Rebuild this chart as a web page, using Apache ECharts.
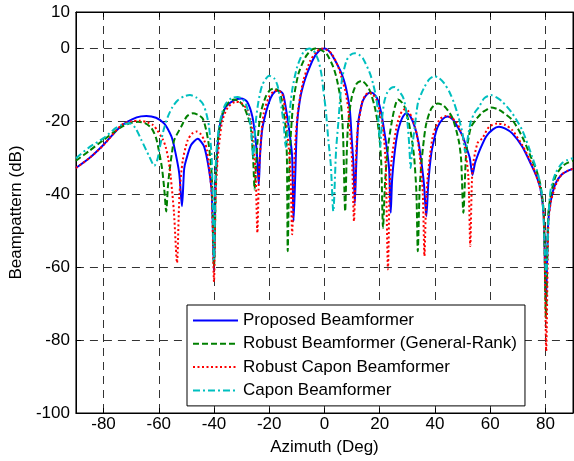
<!DOCTYPE html>
<html>
<head>
<meta charset="utf-8">
<script src="https://cdn.jsdelivr.net/npm/echarts@6/dist/echarts.min.js"></script>
<style>
html,body{margin:0;padding:0;background:#fff;}
#chart{width:574px;height:461px;}
</style>
</head>
<body>
<div id="chart"></div>
<script>
// ---- data ----
const xTicks = [-80, -60, -40, -20, 0, 20, 40, 60, 80];
const seriesNames = ['Proposed Beamformer', 'Robust Beamformer (General-Rank)', 'Robust Capon Beamformer', 'Capon Beamformer'];

const proposedAz = [-90,-85,-80,-73.5,-68,-64.5,-61,-58,-55.5,-54.4,-52.6,-51.6,-50.8,-50.1,-48.3,-45.9,-43.6,-41.8,-40.8,-40,-39.5,-38.8,-38.2,-37,-35.7,-33,-30.1,-28,-26.1,-25,-24.3,-23.8,-23.3,-22.5,-21,-19.5,-18,-16.6,-15,-13.5,-12.5,-11.7,-11.2,-10.8,-10.5,-9.9,-8.7,-7.5,-6.3,-4,-2,0,1.5,3.2,5.7,7,8,9.2,9.9,10.5,11,11.5,12.2,13,14,15.5,17,18.3,19.4,20.5,21.2,22.5,23.4,24,24.5,25.5,26.5,27.5,28.5,29.7,31,32.7,34,35,36,36.9,37.6,38.7,40,41,42.8,44.6,46.5,48.2,50,51.3,52.6,53.6,54.5,55.4,56,58.5,61,63.2,65.5,68,71.6,75.2,77,78.3,79.4,80.2,81,81.9,83.7,86,88,90];
const proposedDb = [-32.8,-30,-26.4,-21.2,-18.9,-18.5,-19,-20.6,-24,-27,-34.2,-43.3,-33,-30.6,-26.5,-24.8,-26.9,-33.3,-40,-61,-38,-28,-22.5,-18.5,-16,-14.3,-13.7,-14.6,-18.7,-24.5,-30.6,-37.4,-29,-22,-17,-13.6,-11.9,-11.5,-12.5,-18.7,-24,-29.7,-47.4,-40,-33,-20.5,-13.3,-9.6,-6.9,-2.8,-0.7,0,-0.6,-2.4,-6,-8.6,-11.5,-17,-25.1,-32,-42.4,-32,-20.5,-17,-14.2,-12.5,-12.1,-12.8,-14.2,-17.5,-20.5,-27,-33,-45.1,-36,-28,-23,-20.3,-18.6,-17.8,-18.5,-21.5,-25.5,-30.6,-37,-46,-37,-28.7,-24,-21.5,-19.4,-18.7,-19.5,-21.5,-24,-26.9,-30,-34.7,-31.5,-29.5,-28.3,-24.2,-22.2,-21.5,-22,-23.3,-26.9,-32.4,-35.5,-38.8,-46,-70,-48,-42,-37,-34.5,-33.6,-33];

const rankAz = [-90,-85,-80,-73.5,-70,-67.5,-65,-62.7,-61,-59.8,-58.8,-58,-57.3,-56.7,-56.2,-55.2,-54.4,-51.9,-49.8,-47.7,-45.8,-44.1,-42.8,-41.8,-40.8,-40,-39.3,-38.7,-37.8,-36.9,-35,-32.8,-31,-29.2,-27.8,-26.7,-25.8,-25.3,-24.7,-24.3,-23.1,-21.3,-19.7,-18.1,-16.5,-15.5,-14.1,-13.6,-13.3,-12.8,-12.3,-11.2,-9.4,-6.9,-5,-3.3,-1.5,0.8,3.2,4.5,5.7,6.4,6.8,7.5,8.1,8.6,9.9,11.7,13.5,15.8,17,18.2,19.2,20,20.6,21.2,22,23,24.3,25.5,26.6,28,29,30.3,31.5,32.5,33.3,33.8,34.4,35,36,36.9,38.7,41,43,44.6,46.3,47.7,48.8,49.5,50.3,51.3,52.2,53.1,55.4,57.2,58.5,60.3,62.5,64.4,68,71.6,75.2,77,78.3,79.4,80.2,81,82,83.7,86,88,90];
const rankDb = [-30.8,-28,-25.1,-21.5,-20.4,-20.1,-20.5,-21.8,-24.5,-28.7,-33,-38.7,-44.7,-38,-34.2,-28.5,-25.1,-21.5,-18.6,-17.8,-18.2,-19.2,-22.5,-26.9,-35,-60,-36,-26,-21,-17.8,-15,-14,-14.4,-16,-18.6,-21.5,-30.6,-38.7,-31,-26,-17.8,-13.3,-11.4,-11,-11.8,-14,-21.5,-30,-55.6,-35,-25.1,-14.2,-6.9,-2.4,-0.6,0,-0.3,-1.5,-5.1,-8.5,-13.3,-19,-25.1,-44.7,-28,-20.5,-13.3,-9.6,-8.9,-10.6,-12.8,-16,-20,-25.1,-32,-49.2,-36,-27,-20.5,-16,-14,-14.8,-16,-19.5,-24.2,-30,-39.7,-55.6,-40,-32.4,-25,-20.5,-16.5,-15.1,-15.6,-16.9,-19,-22.4,-26,-30.6,-45.1,-28.7,-24.5,-21.5,-19,-17.5,-16.9,-16.2,-16.6,-17.4,-19.6,-24.2,-30.6,-34,-37.8,-45,-74,-46,-40,-35.1,-32.4,-31.4,-30.8];

const robustCaponAz = [-90,-85,-80,-73.5,-70,-67,-64,-62.1,-60.5,-58.5,-57.5,-56.5,-55.7,-54.5,-53.4,-52.5,-51.3,-49.5,-48,-46.3,-44.8,-43.6,-42.5,-41.8,-40.8,-40,-39.4,-38.7,-37.8,-36.9,-35,-32.1,-30,-27.9,-26.8,-25.9,-24.9,-24.3,-23.7,-23.1,-22,-20.1,-18.5,-17.1,-15.3,-14.1,-13,-12.3,-11.7,-11.1,-10.5,-9.4,-7.6,-5.1,-3,-1,0.8,2.7,5,7.5,8.5,9.3,10,10.7,11.3,11.9,13.5,14.8,16.2,17.5,18.9,20.7,21.6,22.2,23,23.6,24.3,26.1,27.5,29,30.5,32,33.4,34.4,35.6,36.2,36.8,37.4,39.2,41.6,44,46,47.7,49.3,50.6,52.1,52.8,53.6,55.4,57.2,59.6,62.6,65.5,68,71.6,75.2,78.3,79.5,80.3,81.1,82,84,86,88,90];
const robustCaponDb = [-32.8,-30,-26.5,-21,-20,-19.8,-20.3,-21,-22.5,-25,-27,-30.5,-35,-45,-58.8,-40,-30.6,-25.1,-23.4,-22.8,-23.5,-25.1,-28,-32.4,-40,-64,-40,-30.6,-24,-19.6,-16.2,-14.6,-15,-16.9,-19.5,-24.2,-35.1,-50.6,-34,-26,-17.8,-13.3,-11.8,-11.5,-12.4,-17.8,-26.9,-34,-51,-35,-25.1,-16,-8.7,-3.3,-1,0,-0.4,-1.5,-5.1,-11.5,-16,-23.3,-31,-47.4,-32,-23.3,-15.1,-12.8,-12.1,-12.6,-14.2,-19.6,-25,-32.4,-60.6,-38,-30.6,-21.5,-18,-16.7,-17.3,-19.6,-23.5,-28.7,-39.7,-57,-42,-35.1,-24.2,-19.6,-18.5,-19,-20.1,-22.6,-26,-35.1,-54.2,-33.3,-26,-24.6,-21.5,-20.6,-21,-22.4,-26.5,-31.9,-38.8,-47,-83,-48,-42,-37,-34.5,-33.6,-33];

const caponAz = [-90,-85,-80,-75.5,-73.5,-70.5,-68.5,-66.3,-63.4,-61.6,-60.5,-59.8,-58.3,-56.7,-55,-53.1,-50.8,-48.7,-46.5,-44.1,-42.8,-41.8,-40.8,-40,-39.3,-38.2,-37,-35.7,-33.6,-31.5,-29.8,-28.5,-27.3,-26.5,-25.8,-25,-24,-22.5,-20,-18.2,-17,-16,-14.8,-14,-13,-11.7,-9.9,-7.6,-5.5,-4,-2.2,-1,-0.4,0.5,1.4,2.3,3.2,4.2,5,6.3,8,9.5,11,12.5,14,16.5,17.7,18.9,19.6,20.2,20.9,21.7,22.8,24.2,25.5,26.8,28.4,29.5,30.2,30.7,31.2,31.8,32.7,33.8,35,36.2,38,39.8,41.6,43.4,45.3,47,48.6,50,51,52,53,54.5,56,57.8,60.3,62.3,64.4,68,71.6,75.2,77.5,79,80.3,81.2,81.9,83.7,86,88,90];
const caponDb = [-30.1,-27,-24.6,-21.8,-21,-20.5,-21.8,-25.1,-29.7,-32.2,-30.5,-27.8,-22.5,-18.7,-16,-14.2,-13.1,-12.8,-13.4,-15.1,-17.8,-21.5,-30.6,-58,-30.6,-21.5,-17.5,-15.1,-13.6,-13.3,-13.8,-15.1,-18.5,-23,-30,-21,-15,-10,-7.5,-8.2,-10.2,-14.2,-20.5,-27,-20.5,-11.5,-5.1,-1,0,-0.5,-3.3,-7.5,-11.5,-17,-25.1,-32,-44.7,-28,-20.5,-8.7,-3.3,-1.7,-1.3,-1.7,-2.8,-6.9,-10,-14.2,-20,-27,-19,-14.5,-12,-10.8,-10.6,-11.5,-13.3,-16.5,-21.5,-26.5,-32.8,-27,-21.5,-15.1,-12.5,-10.6,-8.4,-7.6,-8.2,-9.6,-12,-15.1,-19,-23.3,-28.5,-24,-20,-17.5,-16,-13.7,-12.8,-13.4,-14.6,-17.8,-22.4,-29.7,-35,-42,-62,-45,-38.8,-34.2,-31.5,-30.6,-30.1];

function pairs(az, db) { return az.map((a, i) => [a, db[i]]); }

const FONT = '"Liberation Sans", Arial, Helvetica, sans-serif';
const chart = echarts.init(document.getElementById('chart'), null, {renderer: 'canvas'});

const lineW = 2;
const option = {
  animation: false,
  backgroundColor: '#ffffff',
  textStyle: {fontFamily: FONT},
  grid: {left: 74, right: 1, top: 12, bottom: 47, show: true, borderColor: '#000', borderWidth: 1, backgroundColor: 'transparent'},
  legend: {
    orient: 'vertical', left: 187, top: 305,
    backgroundColor: '#fff', borderColor: '#000', borderWidth: 1, borderRadius: 0,
    padding: [7, 8, 7, 5],
    itemWidth: 45, itemHeight: 14, itemGap: 6.3,
    itemStyle: {color: 'rgba(0,0,0,0)', borderColor: 'rgba(0,0,0,0)', borderWidth: 0, opacity: 0},
    textStyle: {fontSize: 17, color: '#000', fontFamily: FONT},
    data: seriesNames
  },
  xAxis: [{
    type: 'value', min: -90, max: 90,
    name: 'Azimuth (Deg)', nameLocation: 'middle', nameGap: 26,
    nameTextStyle: {fontSize: 17, color: '#000', fontFamily: FONT},
    axisLine: {show: true, onZero: false, lineStyle: {color: '#000', width: 1}},
    axisTick: {show: true, inside: true, length: 5, customValues: xTicks, lineStyle: {color: '#000'}},
    axisLabel: {show: true, customValues: xTicks, fontSize: 17, color: '#000', margin: 3, fontFamily: FONT},
    splitLine: {show: true, lineStyle: {color: '#333', type: [8, 6], width: 1}}
  }, {
    type: 'value', min: -90, max: 90, position: 'top',
    axisLine: {show: true, onZero: false, lineStyle: {color: '#000', width: 1}},
    axisTick: {show: true, inside: true, length: 5, customValues: xTicks, lineStyle: {color: '#000'}},
    axisLabel: {show: false}, splitLine: {show: false}
  }],
  yAxis: [{
    type: 'value', min: -100, max: 10, interval: 20,
    name: 'Beampattern (dB)', nameLocation: 'middle', nameGap: 42,
    nameTextStyle: {fontSize: 17, color: '#000', fontFamily: FONT},
    axisLine: {show: true, onZero: false, lineStyle: {color: '#000', width: 1}},
    axisTick: {show: true, inside: true, length: 5, lineStyle: {color: '#000'}},
    axisLabel: {fontSize: 17, color: '#000', margin: 6, fontFamily: FONT, showMaxLabel: true, showMinLabel: true},
    splitLine: {show: true, lineStyle: {color: '#333', type: [8, 6], width: 1}}
  }, {
    type: 'value', min: -100, max: 10, interval: 20, position: 'right',
    axisLine: {show: true, onZero: false, lineStyle: {color: '#000', width: 1}},
    axisTick: {show: true, inside: true, length: 5, lineStyle: {color: '#000'}},
    axisLabel: {show: false}, splitLine: {show: false}
  }],
  series: [
    {name: seriesNames[0], type: 'line', data: pairs(proposedAz, proposedDb), symbol: 'none', smooth: 0.25,
     lineStyle: {color: '#0000ff', width: lineW, type: 'solid'}, itemStyle: {color: '#0000ff'}},
    {name: seriesNames[1], type: 'line', data: pairs(rankAz, rankDb), symbol: 'none', smooth: 0.25,
     lineStyle: {color: '#008000', width: lineW, type: [6, 3]}, itemStyle: {color: '#008000'}},
    {name: seriesNames[2], type: 'line', data: pairs(robustCaponAz, robustCaponDb), symbol: 'none', smooth: 0.25,
     lineStyle: {color: '#ff0000', width: lineW, type: [2, 2.5]}, itemStyle: {color: '#ff0000'}},
    {name: seriesNames[3], type: 'line', data: pairs(caponAz, caponDb), symbol: 'none', smooth: 0.25,
     lineStyle: {color: '#00bfbf', width: lineW, type: [7, 3, 2, 3]}, itemStyle: {color: '#00bfbf'}}
  ]
};
chart.setOption(option);
</script>
</body>
</html>
